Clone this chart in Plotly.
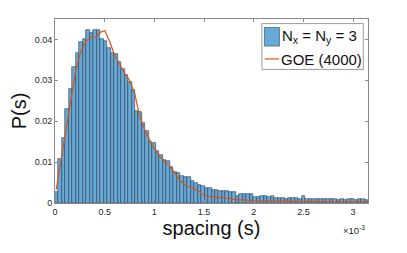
import plotly.graph_objects as go

# Histogram (spacing in units of 1e-3), bin width 0.035e-3, 90 bins from 0
bin_width = 0.035
hist_values = [
    0.0027, 0.0108, 0.0159, 0.0230, 0.0279, 0.0333, 0.0367, 0.0393, 0.0401, 0.0423,
    0.0416, 0.0423, 0.0423, 0.0402, 0.0396, 0.0380, 0.0368, 0.0364, 0.0345, 0.0328,
    0.0314, 0.0295, 0.0276, 0.0226, 0.0222, 0.0196, 0.0175, 0.0148, 0.0147, 0.0127,
    0.0117, 0.0106, 0.0103, 0.0089, 0.0075, 0.0073, 0.0065, 0.0063, 0.0063, 0.0053,
    0.0049, 0.0045, 0.0041, 0.0036, 0.0036, 0.0033, 0.0032, 0.0029, 0.0029, 0.0029,
    0.0027, 0.0027, 0.0018, 0.0022, 0.0022, 0.0022, 0.0022, 0.0015, 0.0015, 0.0018,
    0.0018, 0.0014, 0.0018, 0.0013, 0.0012, 0.0013, 0.0011, 0.0012, 0.0013, 0.0013,
    0.0010, 0.0017, 0.0011, 0.0011, 0.0010, 0.0010, 0.0009, 0.0009, 0.0009, 0.0010,
    0.0010, 0.0008, 0.0009, 0.0008, 0.0009, 0.0009, 0.0008, 0.0009, 0.0009, 0.0008,
]
bin_centers = [bin_width * (i + 0.5) for i in range(len(hist_values))]

# GOE reference curve
goe_x = [0.012, 0.06, 0.11, 0.16, 0.21, 0.26, 0.31, 0.36, 0.41, 0.46, 0.50, 0.55,
         0.60, 0.65, 0.70, 0.75, 0.80, 0.85, 0.90, 0.95, 1.00, 1.05, 1.10, 1.15,
         1.20, 1.25, 1.30, 1.35, 1.40, 1.45, 1.50, 1.55, 1.60, 1.70, 1.80, 1.90,
         2.0, 2.2, 2.4, 2.6, 2.8, 3.0, 3.15]
goe_y = [0.0033, 0.0105, 0.0175, 0.0260, 0.0325, 0.0370, 0.0395, 0.0405, 0.0406,
         0.0418, 0.0422, 0.0395, 0.0362, 0.0340, 0.0318, 0.0300, 0.0270, 0.0215,
         0.0180, 0.0155, 0.0132, 0.0115, 0.0102, 0.0092, 0.0075, 0.0058, 0.0045,
         0.0040, 0.0035, 0.0028, 0.0019, 0.0016, 0.0015, 0.0013, 0.0009, 0.0007,
         0.0006, 0.0005, 0.0004, 0.0004, 0.0003, 0.0003, 0.0003]

series_names = ["N<sub>x</sub> = N<sub>y</sub> = 3", "GOE (4000)"]

x_ticks = [0, 0.5, 1, 1.5, 2, 2.5, 3]
x_ticklabels = ["0", "0.5", "1", "1.5", "2", "2.5", "3"]
y_ticks = [0, 0.01, 0.02, 0.03, 0.04]
y_ticklabels = ["0", "0.01", "0.02", "0.03", "0.04"]

font_family = "Liberation Sans, Arial, sans-serif"
axis_color = "#8a8a8a"
bar_color = "#66aad7"
line_color = "#d95319"

fig = go.Figure()
fig.add_trace(go.Bar(
    x=bin_centers, y=hist_values, width=bin_width,
    marker=dict(color=bar_color, line=dict(color="#2b3d50", width=0.6)),
    name=series_names[0], showlegend=False,
))
fig.add_trace(go.Scatter(
    x=goe_x, y=goe_y, mode="lines",
    line=dict(color=line_color, width=1.2),
    name=series_names[1], showlegend=False,
))

# Legend box drawn in the MATLAB style (paper coordinates)
legend_shapes = [
    dict(type="rect", xref="paper", yref="paper", x0=0.661, x1=0.985, y0=0.726, y1=0.975,
         line=dict(color="#9a9a9a", width=1), fillcolor="white", layer="above"),
    dict(type="rect", xref="paper", yref="paper", x0=0.669, x1=0.717, y0=0.853, y1=0.954,
         line=dict(color="#2b3d50", width=0.6), fillcolor=bar_color, layer="above"),
    dict(type="line", xref="paper", yref="paper", x0=0.670, x1=0.716, y0=0.783, y1=0.783,
         line=dict(color=line_color, width=1.2), layer="above"),
]
legend_texts = [
    dict(text=series_names[0], xref="paper", yref="paper", x=0.719, y=0.905,
         xanchor="left", yanchor="middle", showarrow=False,
         font=dict(size=15, color="#111")),
    dict(text=series_names[1], xref="paper", yref="paper", x=0.716, y=0.778,
         xanchor="left", yanchor="middle", showarrow=False,
         font=dict(size=15, color="#111")),
]

fig.update_layout(
    width=399, height=245,
    margin=dict(l=47, r=39, t=11, b=50, autoexpand=False),
    paper_bgcolor="white", plot_bgcolor="white",
    bargap=0, showlegend=False,
    font=dict(family=font_family, color="#262626"),
    shapes=legend_shapes,
    annotations=legend_texts + [dict(
        text="×10<sup>-3</sup>", xref="paper", yref="paper",
        x=0.998, y=-0.105, xanchor="right", yanchor="top", showarrow=False,
        font=dict(size=9.5, color="#262626"),
    )],
)
fig.update_xaxes(
    range=[0, 3.15], tickvals=x_ticks, ticktext=x_ticklabels,
    ticks="inside", ticklen=3, tickcolor=axis_color,
    showline=True, linecolor=axis_color, linewidth=1, mirror="ticks",
    showgrid=False, zeroline=False, automargin=False,
    tickfont=dict(size=9, color="#262626"),
    title=dict(text="spacing (s)", font=dict(size=20, color="#111"), standoff=4),
)
fig.update_yaxes(
    range=[0, 0.045], tickvals=y_ticks, ticktext=y_ticklabels,
    ticks="inside", ticklen=3, tickcolor=axis_color,
    showline=True, linecolor=axis_color, linewidth=1, mirror="ticks",
    showgrid=False, zeroline=False, automargin=False,
    tickfont=dict(size=9, color="#262626"),
    title=dict(text="P(s)", font=dict(size=20, color="#111"), standoff=8),
)

fig.write_html("out.html")
